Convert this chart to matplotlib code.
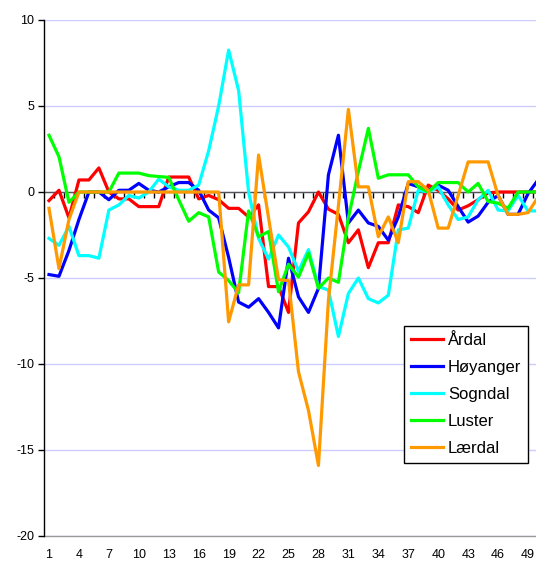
import numpy as np
import matplotlib
matplotlib.use("Agg")
import matplotlib.pyplot as plt

plt.rcParams['font.family'] = ['Liberation Sans', 'DejaVu Sans']
plt.rcParams['axes.unicode_minus'] = False

weeks = list(range(1, 51))

ardal = [-0.5, 0.1, -1.5, 0.7, 0.7, 1.4, 0.0, -0.4, -0.4, -0.85,
         -0.85, -0.85, 0.87, 0.87, 0.87, -0.4, -0.2, -0.45, -0.95, -0.95,
         -1.45, -0.75, -5.5, -5.5, -7.0, -1.8, -1.15, 0.0, -1.0, -1.3,
         -2.95, -2.2, -4.4, -2.95, -2.95, -0.75, -0.85, -1.2, 0.4, 0.1,
         -0.4, -1.05, -0.8, -0.45, -0.05, 0.0, 0.0, 0.0, 0.0, 0.0]

hoyanger = [-4.8, -4.9, -3.4, -1.6, 0.0, 0.0, -0.45, 0.1, 0.1, 0.5,
            0.1, 0.0, 0.3, 0.55, 0.55, 0.1, -1.05, -1.5, -3.8, -6.4,
            -6.7, -6.2, -7.0, -7.9, -3.85, -6.1, -7.0, -5.6, 1.0, 3.3,
            -1.8, -1.05, -1.8, -2.0, -2.8, -1.45, 0.5, 0.3, 0.1, 0.4,
            0.1, -0.85, -1.75, -1.4, -0.6, -0.2, -1.3, -1.3, -0.1, 0.7]

sogndal = [-2.7, -3.1, -2.0, -3.7, -3.7, -3.85, -1.05, -0.75, -0.2, -0.35,
           0.0, 0.75, 0.3, 0.1, 0.1, 0.4, 2.4, 5.0, 8.25, 5.9,
           0.0, -2.7, -3.9, -2.5, -3.2, -4.6, -3.35, -5.5, -5.7, -8.4,
           -5.9, -5.0, -6.2, -6.45, -6.0, -2.2, -2.1, 0.1, 0.0, 0.3,
           -0.75, -1.6, -1.45, -0.45, 0.1, -1.05, -1.1, -0.2, -1.1, -1.1]

luster = [3.3, 2.05, -0.6, 0.0, 0.0, 0.0, 0.0, 1.1, 1.1, 1.1,
          0.95, 0.9, 0.85, -0.45, -1.7, -1.2, -1.45, -4.65, -5.15, -5.85,
          -1.1, -2.6, -2.3, -5.8, -4.2, -4.95, -3.55, -5.6, -5.0, -5.25,
          -1.5, 1.2, 3.7, 0.8, 1.0, 1.0, 1.0, 0.3, 0.0, 0.55,
          0.55, 0.55, 0.0, 0.5, -0.55, -0.65, -0.95, 0.0, 0.0, 0.0]

laerdal = [-0.95, -4.45, -1.6, 0.0, 0.0, 0.0, 0.0, 0.0, 0.0, 0.0,
           0.0, 0.0, 0.0, 0.0, 0.0, 0.0, 0.0, 0.0, -7.55, -5.4,
           -5.4, 2.15, -1.5, -5.1, -5.15, -10.45, -12.7, -15.9, -6.3, -0.8,
           4.8, 0.3, 0.3, -2.6, -1.45, -2.95, 0.6, 0.6, 0.1, -2.1,
           -2.1, -0.2, 1.75, 1.75, 1.75, -0.2, -1.3, -1.3, -1.2, -0.3]

series = [("Årdal", ardal, "#ff0000"),
          ("Høyanger", hoyanger, "#0000ff"),
          ("Sogndal", sogndal, "#00ffff"),
          ("Luster", luster, "#00ff00"),
          ("Lærdal", laerdal, "#ff9900")]

fig = plt.figure(figsize=(5.36, 5.62), dpi=100)
ax = fig.add_axes([44 / 536, 26 / 562, 1 - 44 / 536, 516 / 562])

for name, vals, col in series:
    ax.plot(weeks, vals, color=col, lw=2.3, label=name, zorder=3)

ax.set_xlim(0.5, 0.5 + 492 / 9.98)
ax.set_ylim(-20, 10)

# grid and frame
ax.set_yticks(range(-20, 11, 5))
ax.yaxis.grid(True, color="#ccccff", lw=1)
ax.set_axisbelow(True)
for s in ['top', 'right']:
    ax.spines[s].set_visible(False)
ax.spines['left'].set_color('black')
ax.spines['left'].set_linewidth(1)
ax.tick_params(axis='y', direction='out', length=4, width=1, labelsize=9, pad=3)

# category axis crossing at zero, ticks between categories
ax.spines['bottom'].set_position(('data', 0))
ax.spines['bottom'].set_color('#555555')
ax.spines['bottom'].set_linewidth(1)
ax.spines['bottom'].set_zorder(1)
ax.set_xticks(np.arange(1.5, 50, 1))
ax.set_xticklabels([])
ax.tick_params(axis='x', direction='out', length=4, width=1, color='black')

# category labels at the bottom edge
lab = ax.secondary_xaxis(0)
lab.spines['bottom'].set_color('#999999')
lab.spines['bottom'].set_linewidth(1)
lab.set_xticks(range(1, 50, 3))
lab.tick_params(axis='x', length=0, labelsize=9, pad=9.5)

leg = ax.legend(loc='upper left', bbox_to_anchor=(0.732, 0.407), fontsize=12,
                frameon=True, fancybox=False, edgecolor='black', framealpha=1,
                handlelength=1.9, handletextpad=0.3, labelspacing=0.72,
                borderpad=0.42, borderaxespad=0)
leg.get_frame().set_linewidth(1)
leg.set_zorder(5)

fig.savefig("out.png", dpi=100)
